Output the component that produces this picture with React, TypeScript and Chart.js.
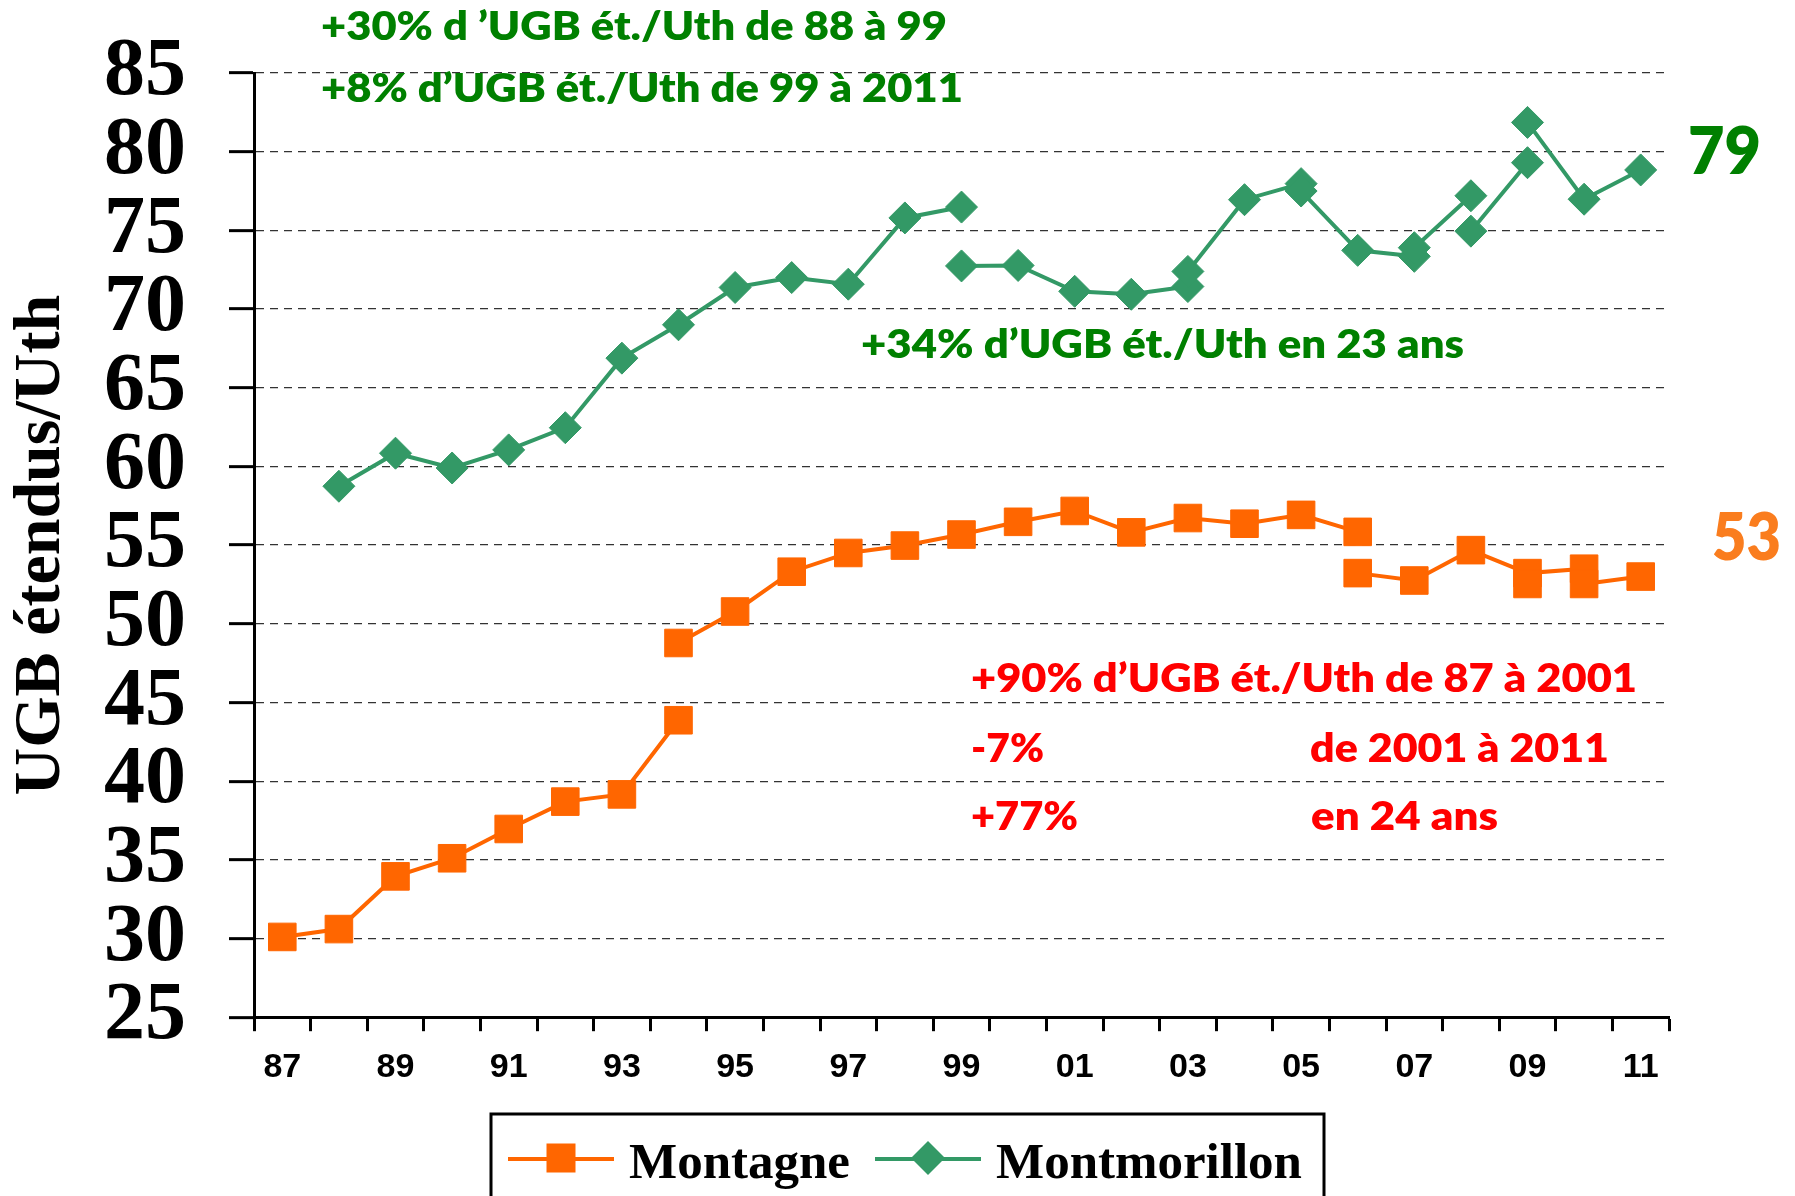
import React, { useEffect, useRef } from 'react';
import { Chart, registerables } from 'chart.js';

Chart.register(...registerables);

// ---- categories / ticks ----
const years = ['87', '88', '89', '90', '91', '92', '93', '94', '95', '96', '97', '98', '99',
  '00', '01', '02', '03', '04', '05', '06', '07', '08', '09', '10', '11'];
const yMin = 25;
const yMax = 85;
const yStep = 5;

// ---- Montagne (several sample panels -> broken line) ----
const montagneYearsA = ['87', '88', '89', '90', '91', '92', '93', '94'];
const montagneA = [30.1, 30.6, 33.95, 35.1, 36.96, 38.7, 39.16, 43.87];
const montagneYearsB = ['94', '95', '96', '97', '98', '99', '00', '01', '02', '03', '04', '05', '06'];
const montagneB = [48.78, 50.78, 53.31, 54.5, 54.97, 55.67, 56.48, 57.17, 55.81, 56.72, 56.36, 56.92, 55.84];
const montagneYearsC = ['06', '07', '08', '09', '10'];
const montagneC = [53.22, 52.75, 54.68, 53.22, 53.5];
const montagneYearsD = ['09'];
const montagneD = [52.53];
const montagneYearsE = ['10', '11'];
const montagneE = [52.53, 53.0];

// ---- Montmorillon ----
const montmoYearsA = ['88', '89', '90', '91', '92', '93', '94', '95', '96', '97', '98', '99'];
const montmoA = [58.74, 60.84, 59.9, 61.05, 62.46, 66.88, 69.0, 71.37, 72.0, 71.58, 75.79, 76.48];
const montmoYearsB = ['99', '00', '01', '02', '03'];
const montmoB = [72.74, 72.77, 71.13, 70.94, 71.43];
const montmoYearsC = ['03', '04', '05'];
const montmoC = [72.39, 76.95, 77.97];
const montmoYearsD = ['05', '06', '07'];
const montmoD = [77.5, 73.73, 73.35];
const montmoYearsE = ['07', '08'];
const montmoE = [73.9, 77.2];
const montmoYearsF = ['08', '09'];
const montmoF = [74.95, 79.3];
const montmoYearsG = ['09', '10', '11'];
const montmoG = [81.86, 76.98, 78.84];

// ---- texts ----
const seriesNames = ['Montagne', 'Montmorillon'];
const yTitle = 'UGB étendus/Uth';
const greenNotes = ['+30% d ’UGB ét./Uth de 88 à 99', '+8% d’UGB ét./Uth de 99 à 2011', '+34% d’UGB ét./Uth en 23 ans'];
const redNotes = ['+90% d’UGB ét./Uth de 87 à 2001', '-7%', 'de 2001 à 2011', '+77%', 'en 24 ans'];
const endLabels = ['79', '53'];

const ORANGE = '#FF6600';
const SEA_GREEN = '#339966';
const TXT_GREEN = '#008000';
const TXT_RED = '#FF0000';
const TXT_ORANGE = '#FA7D1E';
const SERIF = '"Liberation Serif", "Times New Roman", serif';
const SANS = '"Liberation Sans", Arial, sans-serif';
const NOTE_FONT = 'Lato, "Open Sans", sans-serif';

function toPoints(segs: Array<[string[], number[]]>) {
  const out: Array<{ x: string; y: number | null }> = [];
  segs.forEach(([ys, vs], k) => {
    if (k > 0) out.push({ x: ys[0], y: null });
    ys.forEach((yr, i) => out.push({ x: yr, y: vs[i] }));
  });
  return out;
}

function fitText(ctx: CanvasRenderingContext2D, text: string, x: number, base: number, width: number, size: number, color: string) {
  ctx.save();
  ctx.font = `800 ${size}px ${NOTE_FONT}`;
  const m = ctx.measureText(text).width;
  ctx.translate(x, base);
  ctx.scale(width / m, 1);
  ctx.fillStyle = color;
  ctx.textBaseline = 'alphabetic';
  ctx.textAlign = 'left';
  ctx.fillText(text, 0, 0);
  ctx.restore();
}

const notesPlugin = {
  id: 'notesAndLegend',
  afterDraw(chart: any) {
    const ctx: CanvasRenderingContext2D = chart.ctx;
    // annotations
    fitText(ctx, greenNotes[0], 321, 40, 626, 39, TXT_GREEN);
    fitText(ctx, greenNotes[1], 321, 102, 642, 39, TXT_GREEN);
    fitText(ctx, greenNotes[2], 861, 358, 603, 39, TXT_GREEN);
    fitText(ctx, redNotes[0], 971, 692, 666, 39, TXT_RED);
    fitText(ctx, redNotes[1], 971, 762, 73, 39, TXT_RED);
    fitText(ctx, redNotes[2], 1310, 762, 299, 39, TXT_RED);
    fitText(ctx, redNotes[3], 971, 830, 107, 39, TXT_RED);
    fitText(ctx, redNotes[4], 1311, 830, 187, 39, TXT_RED);
    fitText(ctx, endLabels[0], 1688, 174, 73, 67, TXT_GREEN);
    fitText(ctx, endLabels[1], 1712, 560, 69, 66, TXT_ORANGE);

    // legend
    ctx.save();
    ctx.strokeStyle = '#000';
    ctx.lineWidth = 3;
    ctx.strokeRect(491, 1114, 833, 120);
    const ly = 1159;
    // Montagne item
    ctx.strokeStyle = ORANGE;
    ctx.lineWidth = 4;
    ctx.beginPath();
    ctx.moveTo(508, ly);
    ctx.lineTo(614, ly);
    ctx.stroke();
    ctx.fillStyle = ORANGE;
    ctx.fillRect(561 - 14.5, 1158 - 14.5, 29, 29);
    // Montmorillon item
    ctx.strokeStyle = SEA_GREEN;
    ctx.beginPath();
    ctx.moveTo(875, ly);
    ctx.lineTo(981, ly);
    ctx.stroke();
    ctx.fillStyle = SEA_GREEN;
    ctx.beginPath();
    ctx.moveTo(928 - 17, 1158);
    ctx.lineTo(928, 1158 - 17);
    ctx.lineTo(928 + 17, 1158);
    ctx.lineTo(928, 1158 + 17);
    ctx.closePath();
    ctx.fill();
    ctx.fillStyle = '#000';
    ctx.font = `bold 51px ${SERIF}`;
    ctx.textBaseline = 'alphabetic';
    ctx.fillText(seriesNames[0], 629, 1178);
    ctx.fillText(seriesNames[1], 996, 1178);
    ctx.restore();
  },
};

export default function App() {
  const ref = useRef<HTMLCanvasElement | null>(null);

  useEffect(() => {
    document.body.style.margin = '0';
    document.body.style.overflow = 'hidden';
    const canvas = ref.current;
    if (!canvas) return;
    const chart = new Chart(canvas, {
      type: 'line',
      data: {
        labels: years,
        datasets: [
          {
            label: seriesNames[0],
            data: toPoints([
              [montagneYearsA, montagneA],
              [montagneYearsB, montagneB],
              [montagneYearsC, montagneC],
              [montagneYearsD, montagneD],
              [montagneYearsE, montagneE],
            ]) as any,
            borderColor: ORANGE,
            backgroundColor: ORANGE,
            borderWidth: 4,
            pointStyle: 'rect',
            pointRadius: 19.5,
            pointBorderWidth: 1,
            pointBackgroundColor: ORANGE,
            pointBorderColor: ORANGE,
            tension: 0,
            spanGaps: false,
          },
          {
            label: seriesNames[1],
            data: toPoints([
              [montmoYearsA, montmoA],
              [montmoYearsB, montmoB],
              [montmoYearsC, montmoC],
              [montmoYearsD, montmoD],
              [montmoYearsE, montmoE],
              [montmoYearsF, montmoF],
              [montmoYearsG, montmoG],
            ]) as any,
            borderColor: SEA_GREEN,
            backgroundColor: SEA_GREEN,
            borderWidth: 4,
            pointStyle: 'rectRot',
            pointRadius: 16,
            pointBorderWidth: 1,
            pointBackgroundColor: SEA_GREEN,
            pointBorderColor: SEA_GREEN,
            tension: 0,
            spanGaps: false,
          },
        ],
      },
      options: {
        animation: false,
        responsive: false,
        maintainAspectRatio: false,
        devicePixelRatio: 1,
        layout: { padding: { left: 0, right: 126, top: 73, bottom: 92 } },
        plugins: {
          legend: { display: false },
          tooltip: { enabled: false },
        },
        scales: {
          x: {
            type: 'category',
            offset: true,
            grid: {
              display: true,
              drawOnChartArea: false,
              offset: true,
              drawTicks: true,
              tickLength: 14,
              tickWidth: 3,
              tickColor: '#000',
              color: '#000',
            },
            border: { display: true, color: '#000', width: 3 },
            ticks: {
              autoSkip: false,
              maxRotation: 0,
              minRotation: 0,
              padding: 16,
              color: '#000',
              font: { family: SANS, size: 34, weight: 'bold' },
              callback: (_v: any, i: number) => (i % 2 === 0 ? years[i] : ''),
            },
          },
          y: {
            type: 'linear',
            min: yMin,
            max: yMax,
            afterFit: (s: any) => {
              s.width = 254;
            },
            title: {
              display: true,
              text: yTitle,
              color: '#000',
              padding: { top: 2, bottom: 0 },
              font: { family: SERIF, size: 66, weight: 'bold', lineHeight: 1.2 },
            },
            grid: {
              display: true,
              drawOnChartArea: true,
              color: '#333',
              lineWidth: 1.3,
              drawTicks: true,
              tickLength: 25,
              tickWidth: 3,
              tickColor: '#000',
              tickBorderDash: [],
            },
            border: { display: true, color: '#000', width: 3, dash: [8, 6] },
            ticks: {
              stepSize: yStep,
              autoSkip: false,
              padding: 43,
              color: '#000',
              font: { family: SERIF, size: 82, weight: 'bold', lineHeight: 0.7 },
            },
          },
        },
      } as any,
      plugins: [notesPlugin],
    });
    return () => chart.destroy();
  }, []);

  return (
    <div style={{ width: 1795, height: 1196, background: '#fff' }}>
      <canvas ref={ref} width={1795} height={1196} style={{ display: 'block', width: 1795, height: 1196 }} />
    </div>
  );
}
